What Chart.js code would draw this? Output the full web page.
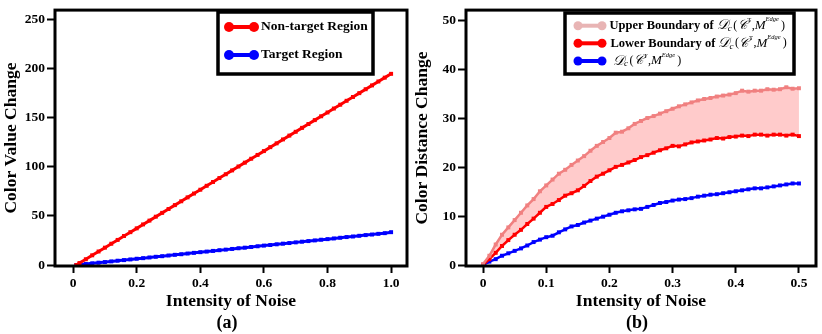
<!DOCTYPE html>
<html>
<head>
<meta charset="utf-8">
<script src="https://cdn.jsdelivr.net/npm/chart.js@4.4.1/dist/chart.umd.min.js"></script>
<style>
  body { margin: 0; background: #fff; }
  .panel { position: absolute; top: 0; width: 411px; height: 334px; }
</style>
</head>
<body>
<div class="panel" style="left:0"><canvas id="chartA" width="411" height="334"></canvas></div>
<div class="panel" style="left:411px"><canvas id="chartB" width="411" height="334"></canvas></div>
<script>
// (a) color value change vs noise intensity
const noiseA = [0.01, 0.02, 0.04, 0.06, 0.08, 0.10, 0.12, 0.14, 0.16, 0.18, 0.20, 0.22, 0.24, 0.26, 0.28, 0.30, 0.32, 0.34, 0.36, 0.38, 0.40,
  0.42, 0.44, 0.46, 0.48, 0.50, 0.52, 0.54, 0.56, 0.58, 0.60, 0.62, 0.64, 0.66, 0.68, 0.70, 0.72, 0.74, 0.76, 0.78, 0.80,
  0.82, 0.84, 0.86, 0.88, 0.90, 0.92, 0.94, 0.96, 0.98, 1.00];
const nonTargetA = [0, 2.0, 5.9, 9.9, 13.8, 17.7, 21.7, 25.6, 29.6, 33.5, 37.4, 41.4, 45.3, 49.3, 53.2, 57.1, 61.1, 65.0, 69.0, 72.9, 76.8,
  80.8, 84.7, 88.7, 92.6, 96.5, 100.5, 104.4, 108.4, 112.3, 116.2, 120.2, 124.1, 128.1, 132.0, 135.9, 139.9, 143.8, 147.8, 151.7, 155.6,
  159.6, 163.5, 167.5, 171.4, 175.3, 179.3, 183.2, 187.2, 191.1, 195.0];
const targetA = [0, 0.3, 1.0, 1.7, 2.4, 3.0, 3.7, 4.4, 5.0, 5.7, 6.4, 7.0, 7.7, 8.4, 9.0, 9.7, 10.4, 11.0, 11.7, 12.4, 13.1,
  13.7, 14.4, 15.1, 15.7, 16.4, 17.1, 17.7, 18.4, 19.1, 19.8, 20.4, 21.1, 21.8, 22.4, 23.1, 23.8, 24.4, 25.1, 25.8, 26.4,
  27.1, 27.8, 28.5, 29.1, 29.8, 30.5, 31.1, 31.8, 32.5, 33.5];
const xTicksA = [0, 0.2, 0.4, 0.6, 0.8, 1.0];
const xTickLabelsA = ['0', '0.2', '0.4', '0.6', '0.8', '1.0'];
const yTicksA = [0, 50, 100, 150, 200, 250];

// (b) color distance change vs noise intensity
const noiseB = [0, 0.01, 0.02, 0.03, 0.04, 0.05, 0.06, 0.07, 0.08, 0.09, 0.10, 0.11, 0.12, 0.13, 0.14, 0.15, 0.16, 0.17, 0.18, 0.19, 0.20,
  0.21, 0.22, 0.23, 0.24, 0.25, 0.26, 0.27, 0.28, 0.29, 0.30, 0.31, 0.32, 0.33, 0.34, 0.35, 0.36, 0.37, 0.38, 0.39, 0.40,
  0.41, 0.42, 0.43, 0.44, 0.45, 0.46, 0.47, 0.48, 0.49, 0.50];
const upperB = [0.2, 1.9, 4.2, 6.2, 7.7, 9.2, 10.7, 12.2, 13.5, 15.1, 16.3, 17.5, 18.7, 19.5, 20.5, 21.4, 22.3, 23.4, 24.4, 25.2, 26.0,
  27.1, 27.3, 28.0, 28.9, 29.5, 30.1, 30.5, 31.0, 31.5, 32.0, 32.5, 32.9, 33.3, 33.7, 34.0, 34.2, 34.5, 34.7, 34.9, 35.2,
  35.7, 35.5, 35.7, 35.7, 36.0, 35.9, 36.0, 36.4, 36.1, 36.2];
const lowerB = [0, 1.2, 2.5, 3.9, 5.1, 6.2, 7.2, 8.4, 9.5, 10.7, 11.9, 12.5, 13.3, 14.2, 14.7, 15.3, 16.2, 17.2, 18.1, 18.7, 19.4,
  20.1, 20.5, 21.0, 21.5, 22.1, 22.5, 23.0, 23.5, 23.9, 24.4, 24.3, 24.7, 25.1, 25.3, 25.5, 25.7, 26.0, 25.9, 26.2, 26.3,
  26.5, 26.4, 26.7, 26.7, 26.5, 26.7, 26.7, 26.5, 26.7, 26.4];
const distB = [0, 0.7, 1.2, 1.9, 2.4, 2.9, 3.4, 4.0, 4.7, 5.2, 5.7, 6.0, 6.7, 7.3, 7.9, 8.2, 8.7, 9.1, 9.5, 9.9, 10.3,
  10.7, 11.0, 11.2, 11.4, 11.5, 11.9, 12.3, 12.7, 12.9, 13.2, 13.4, 13.5, 13.7, 14.0, 14.2, 14.4, 14.5, 14.7, 14.9, 15.1,
  15.3, 15.5, 15.7, 15.7, 15.9, 16.1, 16.3, 16.5, 16.7, 16.7];
const xTicksB = [0, 0.1, 0.2, 0.3, 0.4, 0.5];
const xTickLabelsB = ['0', '0.1', '0.2', '0.3', '0.4', '0.5'];
const yTicksB = [0, 10, 20, 30, 40, 50];

const SERIF = '"Liberation Serif", "Times New Roman", serif';
const toPoints = (xs, ys) => xs.map((x, i) => ({ x, y: ys[i] }));

// black frame around the plot, the boxed legend and the (a)/(b) caption
const framePlugin = {
  id: 'frameLegend',
  afterDraw(chart, args, opts) {
    const { ctx, chartArea: a } = chart;
    ctx.save();
    ctx.strokeStyle = '#000';
    ctx.lineWidth = 3;
    ctx.strokeRect(a.left, a.top, a.right - a.left, a.bottom - a.top);

    const b = opts.box;
    ctx.fillStyle = '#fff';
    ctx.fillRect(b.x, b.y, b.w, b.h);
    ctx.lineWidth = 3.5;
    ctx.strokeRect(b.x, b.y, b.w, b.h);
    opts.rows.forEach(row => {
      ctx.strokeStyle = row.color;
      ctx.fillStyle = row.color;
      ctx.lineWidth = 4;
      ctx.beginPath();
      ctx.moveTo(b.x + opts.lineX0, row.y);
      ctx.lineTo(b.x + opts.lineX1, row.y);
      ctx.stroke();
      [opts.lineX0, opts.lineX1].forEach(px => {
        ctx.beginPath();
        ctx.arc(b.x + px, row.y, opts.dot, 0, Math.PI * 2);
        ctx.fill();
      });
      let x = b.x + row.textX;
      ctx.fillStyle = '#000';
      ctx.textBaseline = 'middle';
      ctx.textAlign = 'left';
      row.parts.forEach(p => {
        ctx.font = p.f;
        ctx.fillText(p.t, x, row.y + (p.dy || 0));
        x += ctx.measureText(p.t).width + (p.gap || 0);
      });
    });

    ctx.fillStyle = '#000';
    ctx.font = 'bold 18px ' + SERIF;
    ctx.textAlign = 'center';
    ctx.textBaseline = 'middle';
    ctx.fillText(opts.caption, (a.left + a.right) / 2 - 4, 323);
    ctx.restore();
  }
};

function axes(xMin, xMax, xTicks, xLabels, yMin, yMax, yTicks, yTitle) {
  const tickFont = { family: SERIF, size: 13.5, weight: 'bold' };
  const titleFont = { family: SERIF, size: 17.5, weight: 'bold' };
  const grid = { drawOnChartArea: false, tickLength: 8, tickWidth: 2, tickColor: '#000' };
  return {
    x: {
      type: 'linear', min: xMin, max: xMax,
      afterBuildTicks: s => { s.ticks = xTicks.map(v => ({ value: v })); },
      afterFit: s => { s.height = 68; },
      ticks: { callback: (v, i) => xLabels[i], font: tickFont, color: '#000', padding: 2, maxRotation: 0, autoSkip: false },
      grid: { ...grid, tickLength: 7 },
      border: { display: false },
      title: { display: true, text: 'Intensity of Noise', font: titleFont, color: '#000', padding: { top: 0, bottom: 22 } }
    },
    y: {
      min: yMin, max: yMax,
      afterBuildTicks: s => { s.ticks = yTicks.map(v => ({ value: v })); },
      afterFit: s => { s.width = 55; },
      ticks: { callback: v => String(v), font: tickFont, color: '#000', padding: 2, autoSkip: false },
      grid,
      border: { display: false },
      title: { display: true, text: yTitle, font: titleFont, color: '#000', padding: { top: 1, bottom: 0 } }
    }
  };
}

const lineStyle = (color, width) => ({
  borderColor: color, backgroundColor: color, borderWidth: width,
  pointStyle: 'rect', pointRadius: 2.8, pointBorderWidth: 0, pointBackgroundColor: color,
  fill: false, tension: 0
});

new Chart(document.getElementById('chartA'), {
  type: 'line',
  data: {
    datasets: [
      { label: 'Non-target Region', data: toPoints(noiseA, nonTargetA), ...lineStyle('#ff0000', 3) },
      { label: 'Target Region', data: toPoints(noiseA, targetA), ...lineStyle('#0000ff', 3) }
    ]
  },
  options: {
    responsive: false, animation: false, devicePixelRatio: 1,
    layout: { padding: { top: 5, right: 4, left: 0, bottom: 0 } },
    scales: axes(-0.057, 1.05, xTicksA, xTickLabelsA, -1, 260, yTicksA, 'Color Value Change'),
    plugins: {
      legend: { display: false },
      tooltip: { enabled: false },
      frameLegend: {
        caption: '(a)',
        box: { x: 218, y: 12, w: 155, h: 62 },
        lineX0: 11, lineX1: 36, dot: 5,
        rows: [
          { y: 27, color: '#ff0000', textX: 43, parts: [{ t: 'Non-target Region', f: 'bold 13.5px ' + SERIF }] },
          { y: 55, color: '#0000ff', textX: 43, parts: [{ t: 'Target Region', f: 'bold 13.5px ' + SERIF }] }
        ]
      }
    }
  },
  plugins: [framePlugin]
});

const mathParts = prefix => {
  const parts = [];
  if (prefix) parts.push({ t: prefix + ' ', f: 'bold 12.5px ' + SERIF });
  return parts.concat([
    { t: '𝒟', f: 'italic 14px "DejaVu Serif", serif' },
    { t: 'c', f: 'italic 9px ' + SERIF, dy: 3, gap: 1.5 },
    { t: '(', f: '12px ' + SERIF, gap: 0.5 },
    { t: '𝒞', f: 'italic 13px "DejaVu Serif", serif', gap: 0.5 },
    { t: 'T', f: '6.5px ' + SERIF, dy: -5, gap: 0.5 },
    { t: ',', f: '12px ' + SERIF },
    { t: 'M', f: 'italic 13px ' + SERIF },
    { t: 'Edge', f: 'italic 6.5px ' + SERIF, dy: -6, gap: 2 },
    { t: ')', f: '12px ' + SERIF }
  ]);
};

new Chart(document.getElementById('chartB'), {
  type: 'line',
  data: {
    datasets: [
      { label: 'Upper Boundary', data: toPoints(noiseB, upperB), ...lineStyle('#f08080', 2.5), fill: { target: 1 }, backgroundColor: 'rgba(255, 160, 160, 0.55)' },
      { label: 'Lower Boundary', data: toPoints(noiseB, lowerB), ...lineStyle('#ff0000', 2.5) },
      { label: 'Dc', data: toPoints(noiseB, distB), ...lineStyle('#0000ff', 2.5) }
    ]
  },
  options: {
    responsive: false, animation: false, devicePixelRatio: 1,
    layout: { padding: { top: 5, right: 6, left: 0, bottom: 0 } },
    scales: axes(-0.027, 0.527, xTicksB, xTickLabelsB, -0.2, 52.2, yTicksB, 'Color Distance Change'),
    plugins: {
      legend: { display: false },
      tooltip: { enabled: false },
      filler: { drawTime: 'beforeDatasetsDraw' },
      frameLegend: {
        caption: '(b)',
        box: { x: 154, y: 13, w: 229, h: 61 },
        lineX0: 13, lineX1: 37, dot: 4.5,
        rows: [
          { y: 25.7, color: '#e8b4b4', textX: 44.5, parts: mathParts('Upper Boundary of') },
          { y: 43.3, color: '#ff0000', textX: 45.5, parts: mathParts('Lower Boundary of') },
          { y: 61, color: '#0000ff', textX: 48, parts: mathParts('') }
        ]
      }
    }
  },
  plugins: [framePlugin]
});
</script>
</body>
</html>
